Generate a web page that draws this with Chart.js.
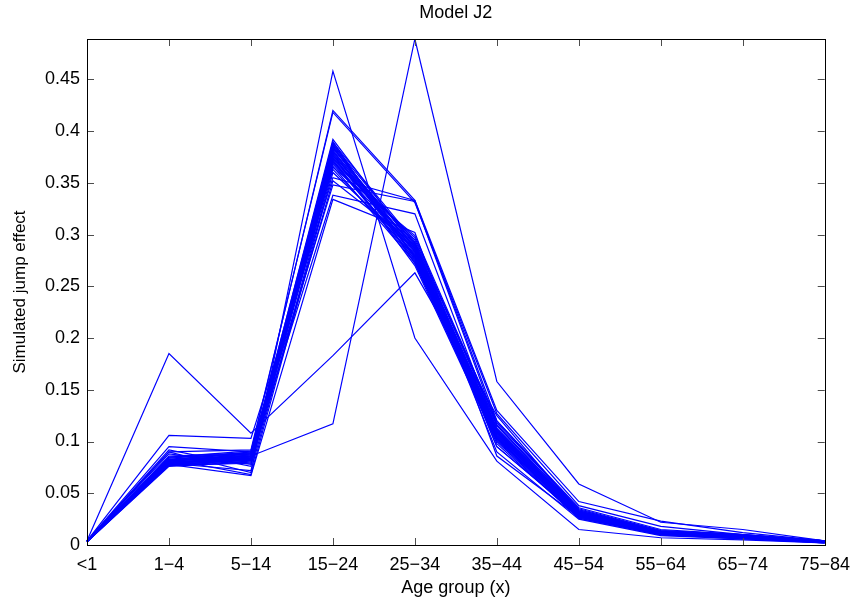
<!DOCTYPE html>
<html>
<head>
<meta charset="utf-8">
<script src="https://cdn.jsdelivr.net/npm/chart.js@4/dist/chart.umd.min.js"></script>
<style>
    body { margin: 0; background: #fff; }
    #wrap { width: 859px; height: 602px; }
</style>
</head>
<body>
<div id="wrap"><canvas id="chart"></canvas></div>
<script>
// age groups on the x axis
const ageGroups = ["<1", "1\u22124", "5\u221214", "15\u221224", "25\u221234", "35\u221244", "45\u221254", "55\u221264", "65\u221274", "75\u221284"];

// y axis ticks
const yTicks = [0, 0.05, 0.1, 0.15, 0.2, 0.25, 0.3, 0.35, 0.4, 0.45];
const yMax = 0.489;

const chartTitle = "Model J2";

// the dense bundle of simulated runs
const bundleRuns = [
    [0.003, 0.078, 0.082, 0.390, 0.272, 0.102, 0.028, 0.011, 0.008, 0.003],
    [0.004, 0.080, 0.084, 0.388, 0.278, 0.105, 0.030, 0.012, 0.008, 0.003],
    [0.003, 0.081, 0.086, 0.386, 0.283, 0.108, 0.031, 0.012, 0.009, 0.003],
    [0.004, 0.079, 0.083, 0.384, 0.286, 0.110, 0.029, 0.011, 0.008, 0.003],
    [0.003, 0.082, 0.087, 0.383, 0.290, 0.112, 0.032, 0.013, 0.009, 0.004],
    [0.004, 0.077, 0.081, 0.381, 0.275, 0.104, 0.027, 0.010, 0.007, 0.003],
    [0.003, 0.083, 0.088, 0.380, 0.292, 0.113, 0.033, 0.013, 0.009, 0.003],
    [0.004, 0.080, 0.085, 0.378, 0.280, 0.107, 0.030, 0.012, 0.008, 0.003],
    [0.003, 0.076, 0.080, 0.377, 0.270, 0.100, 0.026, 0.010, 0.007, 0.002],
    [0.004, 0.084, 0.089, 0.376, 0.295, 0.115, 0.034, 0.014, 0.010, 0.004],
    [0.003, 0.079, 0.084, 0.375, 0.284, 0.109, 0.029, 0.011, 0.008, 0.003],
    [0.004, 0.081, 0.086, 0.373, 0.288, 0.111, 0.031, 0.012, 0.009, 0.003],
    [0.003, 0.078, 0.082, 0.372, 0.276, 0.103, 0.028, 0.011, 0.007, 0.003],
    [0.004, 0.082, 0.090, 0.370, 0.297, 0.116, 0.033, 0.013, 0.009, 0.004],
    [0.003, 0.080, 0.083, 0.368, 0.281, 0.106, 0.030, 0.012, 0.008, 0.003],
    [0.004, 0.077, 0.079, 0.366, 0.273, 0.101, 0.027, 0.010, 0.007, 0.002],
    [0.003, 0.085, 0.091, 0.365, 0.299, 0.118, 0.035, 0.014, 0.010, 0.004],
    [0.004, 0.079, 0.072, 0.363, 0.279, 0.098, 0.026, 0.010, 0.007, 0.003],
    [0.003, 0.083, 0.068, 0.360, 0.285, 0.095, 0.028, 0.011, 0.008, 0.003],
    [0.004, 0.081, 0.087, 0.392, 0.287, 0.090, 0.025, 0.009, 0.006, 0.002],
    [0.003, 0.086, 0.089, 0.389, 0.293, 0.120, 0.034, 0.013, 0.009, 0.003],
    [0.004, 0.078, 0.085, 0.385, 0.277, 0.104, 0.029, 0.011, 0.008, 0.003],
    [0.003, 0.080, 0.082, 0.379, 0.282, 0.108, 0.030, 0.012, 0.008, 0.003],
    [0.004, 0.092, 0.076, 0.374, 0.289, 0.112, 0.032, 0.012, 0.009, 0.003],
    [0.003, 0.079, 0.086, 0.371, 0.274, 0.103, 0.028, 0.010, 0.007, 0.003],
    [0.004, 0.082, 0.084, 0.387, 0.291, 0.110, 0.031, 0.013, 0.009, 0.004],
    [0.003, 0.077, 0.083, 0.382, 0.279, 0.106, 0.029, 0.011, 0.008, 0.003],
    [0.004, 0.081, 0.088, 0.369, 0.286, 0.109, 0.030, 0.012, 0.008, 0.003]
];

// runs that stray from the bundle
const strayRuns = [
    [0.004, 0.185, 0.108, 0.183, 0.263, 0.125, 0.032, 0.012, 0.007, 0.003],
    [0.004, 0.082, 0.086, 0.117, 0.489, 0.158, 0.059, 0.022, 0.015, 0.004],
    [0.004, 0.090, 0.070, 0.458, 0.200, 0.081, 0.015, 0.007, 0.005, 0.002],
    [0.004, 0.095, 0.090, 0.420, 0.333, 0.130, 0.042, 0.023, 0.012, 0.004],
    [0.004, 0.090, 0.092, 0.418, 0.331, 0.127, 0.038, 0.018, 0.010, 0.003],
    [0.004, 0.106, 0.103, 0.355, 0.333, 0.120, 0.036, 0.015, 0.010, 0.004],
    [0.004, 0.085, 0.088, 0.348, 0.332, 0.116, 0.030, 0.012, 0.008, 0.003],
    [0.004, 0.080, 0.085, 0.338, 0.320, 0.110, 0.028, 0.011, 0.007, 0.003],
    [0.004, 0.078, 0.067, 0.334, 0.302, 0.086, 0.027, 0.010, 0.006, 0.003],
    [0.004, 0.088, 0.078, 0.352, 0.290, 0.095, 0.029, 0.011, 0.007, 0.003]
];

const runs = bundleRuns.concat(strayRuns);

const font = "'Liberation Sans', Arial, Helvetica, sans-serif";

// MATLAB style box: frame, inward ticks on all four sides, title over the axes
const matlabBox = {
    id: "matlabBox",
    afterDatasetsDraw(chart) {
        let { ctx, chartArea: a, scales: { x, y } } = chart;
        let len = 7;
        ctx.save();
        ctx.strokeStyle = "#4d4d4d";
        ctx.lineWidth = 1;
        ctx.beginPath();
        x.ticks.forEach((t, i) => {
            let px = Math.round(x.getPixelForTick(i)) + 0.5;
            ctx.moveTo(px, a.bottom); ctx.lineTo(px, a.bottom - len);
            ctx.moveTo(px, a.top); ctx.lineTo(px, a.top + len);
        });
        y.ticks.forEach((t, i) => {
            let py = Math.round(y.getPixelForTick(i)) + 0.5;
            ctx.moveTo(a.left, py); ctx.lineTo(a.left + len, py);
            ctx.moveTo(a.right, py); ctx.lineTo(a.right - len, py);
        });
        ctx.stroke();
        ctx.strokeStyle = "#000";
        ctx.strokeRect(Math.round(a.left) + 0.5, Math.round(a.top) + 0.5,
            Math.round(a.right - a.left), Math.round(a.bottom - a.top));

        ctx.fillStyle = "#000";
        ctx.font = "18px " + font;
        ctx.textAlign = "center";
        ctx.textBaseline = "middle";
        ctx.fillText(chartTitle, (a.left + a.right) / 2, 13);
        ctx.restore();
    }
};

new Chart(document.getElementById("chart"), {
    type: "line",
    data: {
        labels: ageGroups,
        datasets: runs.map((vals, i) => ({
            label: "run " + (i + 1),
            data: vals,
            borderColor: "#0000ff",
            borderWidth: 1.2,
            pointRadius: 0,
            fill: false,
            tension: 0,
        })),
    },
    options: {
        responsive: true,
        maintainAspectRatio: false,
        animation: false,
        layout: { padding: { left: 0, right: 32, top: 39, bottom: 0 } },
        plugins: {
            legend: { display: false },
            tooltip: { enabled: false },
            title: { display: false },
        },
        scales: {
            x: {
                offset: false,
                grid: { display: false, drawTicks: false },
                border: { display: false },
                ticks: {
                    color: "#000",
                    font: { family: font, size: 18 },
                    padding: 9,
                    autoSkip: false,
                    maxRotation: 0,
                },
                title: {
                    display: true,
                    text: "Age group (x)",
                    color: "#000",
                    font: { family: font, size: 18 },
                    padding: { top: 2, bottom: 3 },
                },
                afterFit(s) { s.height = 57; },
            },
            y: {
                min: 0,
                max: yMax,
                grid: { display: false, drawTicks: false },
                border: { display: false },
                afterBuildTicks(s) { s.ticks = yTicks.map((v) => ({ value: v })); },
                ticks: {
                    color: "#000",
                    font: { family: font, size: 18 },
                    padding: 7,
                    includeBounds: false,
                    callback: (v) => String(Math.round(v * 100) / 100),
                },
                title: {
                    display: true,
                    text: "Simulated jump effect",
                    color: "#000",
                    font: { family: font, size: 17 },
                    padding: { top: 10, bottom: 4 },
                },
                afterFit(s) { s.width = 87; },
            },
        },
    },
    plugins: [matlabBox],
});
</script>
</body>
</html>
